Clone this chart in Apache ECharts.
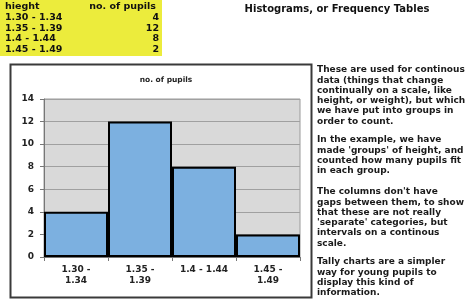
<!DOCTYPE html>
<html>
<head>
<meta charset="utf-8">
<script src="https://cdn.jsdelivr.net/npm/echarts@6/dist/echarts.min.js"></script>
<style>html,body{margin:0;padding:0;background:#fff;}#c{width:474px;height:303px;}</style>
</head>
<body>
<div id="c"></div>
<script>
var categories = ['1.30 -\n1.34', '1.35 -\n1.39', '1.4 - 1.44', '1.45 -\n1.49'];
var tableRanges = ['1.30 - 1.34', '1.35 - 1.39', '1.4 - 1.44', '1.45 - 1.49'];
var pupils = [4, 12, 8, 2];
var yTicks = [0, 2, 4, 6, 8, 10, 12, 14];
var pageTitle = 'Histograms, or Frequency Tables';
var chartTitle = 'no. of pupils';
var tableHeader = ['hieght', 'no. of pupils'];
var paragraphs = [
  'These are used for continous\ndata (things that change\ncontinually on a scale, like\nheight, or weight), but which\nwe have put into groups in\norder to count.',
  'In the example, we have\nmade \'groups\' of height, and\ncounted how many pupils fit\nin each group.',
  'The columns don\'t have\ngaps between them, to show\nthat these are not really\n\'separate\' categories, but\nintervals on a continous\nscale.',
  'Tally charts are a simpler\nway for young pupils to\ndisplay this kind of\ninformation.'
];

var FONT = 'DejaVu Sans';
var graphics = [];
// yellow table
graphics.push({type:'rect', shape:{x:0,y:0,width:162,height:56}, style:{fill:'#ecec3c'}, z:1});
graphics.push({type:'text', x:5, y:7, style:{text:tableHeader[0], font:'bold 9.5px "'+FONT+'"', fill:'#111', textVerticalAlign:'middle'}, z:2});
graphics.push({type:'text', x:156, y:7, style:{text:tableHeader[1], font:'bold 9.5px "'+FONT+'"', fill:'#111', textAlign:'right', textVerticalAlign:'middle'}, z:2});
var rowY = [18, 29, 39, 50];
for (var i = 0; i < tableRanges.length; i++) {
  graphics.push({type:'text', x:5, y:rowY[i], style:{text:tableRanges[i], font:'bold 9.5px "'+FONT+'"', fill:'#111', textVerticalAlign:'middle'}, z:2});
  graphics.push({type:'text', x:159, y:rowY[i], style:{text:String(pupils[i]), font:'bold 9.5px "'+FONT+'"', fill:'#111', textAlign:'right', textVerticalAlign:'middle'}, z:2});
}
// page title
graphics.push({type:'text', x:337, y:9, style:{text:pageTitle, font:'bold 10px "'+FONT+'"', fill:'#111', textAlign:'center', textVerticalAlign:'middle'}, z:2});
// chart box
graphics.push({type:'rect', shape:{x:10.5,y:64.5,width:301,height:233}, style:{fill:'none', stroke:'#3a3a3a', lineWidth:2}, z:0});
// paragraphs
var paraTop = [65, 135, 187, 257];
for (var p = 0; p < paragraphs.length; p++) {
  graphics.push({type:'text', x:317, y:paraTop[p], style:{text:paragraphs[p], font:'bold 9px "'+FONT+'"', fill:'#1a1a1a', lineHeight:10.25, textVerticalAlign:'top'}, z:2});
}

var chart = echarts.init(document.getElementById('c'), null, {renderer:'canvas'});
chart.setOption({
  animation: false,
  backgroundColor: '#fff',
  title: {text: chartTitle, left: 161, top: 71, textAlign: 'center',
    textStyle: {fontFamily: FONT, fontSize: 7.5, fontWeight: 'bold', color: '#222'}},
  grid: {left: 44, top: 99, width: 256, height: 158, show: true, backgroundColor: '#d9d9d9', borderColor: '#9a9a9a', borderWidth: 1},
  xAxis: {type: 'category', data: categories,
    axisLine: {show: true, lineStyle: {color: '#777'}},
    axisTick: {show: true, length: 4, lineStyle: {color: '#777'}},
    axisLabel: {fontFamily: FONT, fontSize: 9, fontWeight: 'bold', color: '#222', margin: 7, lineHeight: 11, interval: 0}},
  yAxis: {type: 'value', min: yTicks[0], max: yTicks[yTicks.length-1], interval: yTicks[1]-yTicks[0],
    axisLine: {show: true, lineStyle: {color: '#777'}},
    axisTick: {show: true, length: 4, lineStyle: {color: '#777'}},
    splitLine: {lineStyle: {color: '#a0a0a0', width: 1}},
    axisLabel: {fontFamily: FONT, fontSize: 9, fontWeight: 'bold', color: '#222', margin: 10}},
  series: [{type: 'bar', data: pupils, barWidth: '100%', barCategoryGap: '0%',
    itemStyle: {color: '#7cb0e0', borderColor: '#000', borderWidth: 2}}],
  graphic: graphics
});
</script>
</body>
</html>
